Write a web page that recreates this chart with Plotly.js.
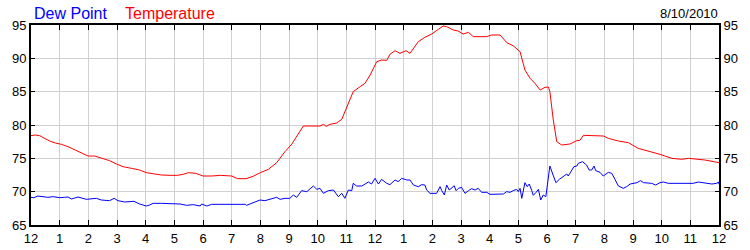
<!DOCTYPE html>
<html><head><meta charset="utf-8">
<script src="https://cdn.plot.ly/plotly-3.0.1.min.js"></script>
<style>html,body{margin:0;padding:0;background:#fff}#c{width:750px;height:250px}</style>
</head><body><div id="c"></div>
<script>
const hourTicks = [0,1,2,3,4,5,6,7,8,9,10,11,12,13,14,15,16,17,18,19,20,21,22,23,24];
const hourLabels = ["12","1","2","3","4","5","6","7","8","9","10","11","12","1","2","3","4","5","6","7","8","9","10","11","12"];
const yTicks = [65,70,75,80,85,90,95];

const tempHours = [0.00,0.15,0.30,0.48,0.65,0.85,1.06,1.29,1.52,1.76,1.99,2.22,2.45,2.74,2.98,3.21,3.50,3.79,4.02,4.26,4.55,4.85,5.10,5.30,5.49,5.75,6.00,6.30,6.60,7.00,7.20,7.50,7.75,8.00,8.28,8.57,8.86,9.10,9.27,9.50,9.73,10.08,10.20,10.30,10.43,10.66,10.84,11.01,11.24,11.48,11.65,11.83,12.06,12.23,12.41,12.52,12.70,12.87,13.08,13.22,13.51,13.74,13.98,14.21,14.38,14.50,14.73,14.90,15.08,15.26,15.43,15.90,16.07,16.36,16.60,16.83,17.06,17.23,17.41,17.58,17.76,17.93,18.05,18.10,18.22,18.34,18.51,18.80,19.04,19.15,19.27,19.97,20.14,20.49,20.84,21.18,21.53,21.94,22.35,22.70,22.93,23.51,24.00];
const tempValues = [78.4,78.5,78.4,78.0,77.6,77.3,77.1,76.75,76.25,75.75,75.35,75.35,75.0,74.65,74.15,73.75,73.5,73.25,72.85,72.65,72.5,72.45,72.45,72.6,72.85,72.75,72.35,72.35,72.45,72.35,71.95,71.95,72.3,72.85,73.35,74.35,76.0,77.15,78.25,79.85,79.85,79.85,80.1,79.8,80.1,80.3,80.85,82.5,85.0,85.75,86.25,87.5,89.5,89.75,89.7,90.6,91.15,90.75,91.15,90.75,92.5,93.15,93.65,94.35,94.85,94.75,94.25,94.1,93.65,93.9,93.25,93.25,93.5,93.5,92.35,91.85,91.0,88.25,87.0,86.25,85.25,85.65,85.7,85.0,80.75,77.5,77.0,77.15,77.65,77.7,78.45,78.35,78.0,77.6,77.35,76.5,76.1,75.6,75.0,74.85,75.0,74.75,74.35];

const dewHours = [0.00,0.10,0.24,0.38,0.59,0.77,0.94,1.00,1.17,1.29,1.41,1.64,1.93,2.10,2.28,2.45,2.74,2.90,3.03,3.27,3.50,3.59,3.79,4.02,4.14,4.26,4.55,4.95,5.20,5.43,5.66,5.90,5.95,6.13,6.30,6.59,7.47,7.52,7.75,7.99,8.16,8.34,8.57,8.69,8.86,9.03,9.15,9.27,9.44,9.62,9.73,9.85,9.97,10.08,10.20,10.37,10.55,10.72,10.84,10.95,11.07,11.19,11.24,11.36,11.54,11.77,11.88,12.00,12.12,12.23,12.41,12.52,12.70,12.81,12.93,13.11,13.22,13.34,13.51,13.63,13.74,13.80,13.92,14.15,14.21,14.27,14.33,14.42,14.50,14.59,14.73,14.76,14.83,14.91,15.02,15.14,15.26,15.37,15.49,15.60,15.72,15.90,16.01,16.48,16.59,16.71,16.82,16.94,17.00,17.06,17.12,17.23,17.31,17.38,17.47,17.52,17.62,17.70,17.78,17.87,17.96,18.02,18.10,18.20,18.31,18.43,18.57,18.69,18.74,18.83,18.94,19.04,19.09,19.24,19.38,19.47,19.56,19.64,19.70,19.85,19.96,20.14,20.26,20.37,20.49,20.66,20.78,20.90,21.02,21.14,21.26,21.37,21.65,21.79,21.94,22.06,22.23,22.35,22.81,22.94,23.10,23.28,23.51,23.75,23.92,23.98,24.00];
const dewValues = [69.15,69.1,69.35,69.25,69.15,69.25,69.1,69.1,69.15,69.2,68.9,69.2,68.85,68.9,69.0,68.75,68.65,69.0,68.65,68.45,68.45,68.55,68.15,67.85,68.0,68.25,68.25,68.25,68.15,67.95,68.05,67.85,68.15,67.85,68.1,68.1,68.1,67.95,68.35,68.75,68.65,68.85,69.15,68.85,69.0,69.0,69.5,69.15,70.15,70.0,70.4,70.85,70.35,70.5,69.75,70.15,70.25,69.25,69.75,69.0,70.25,70.15,71.25,70.85,70.85,71.45,71.15,72.0,71.15,71.85,71.25,71.05,71.75,71.5,72.0,71.75,71.75,71.0,70.75,71.05,71.0,70.25,69.75,69.75,70.25,70.75,70.15,69.5,71.0,70.25,70.75,70.9,70.15,70.5,70.65,69.75,70.15,70.45,70.25,70.5,69.9,69.9,69.6,69.65,70.0,69.9,70.15,70.35,70.0,70.5,69.0,71.35,70.75,71.15,70.15,69.45,69.9,70.35,68.75,69.5,69.25,71.25,73.85,72.65,71.35,71.85,72.25,72.65,72.35,73.0,73.75,73.85,74.25,74.5,74.0,73.25,73.25,73.85,73.15,72.9,72.35,72.9,72.75,71.85,70.85,70.5,70.75,71.15,71.25,71.35,71.65,71.35,71.25,71.0,71.35,71.45,71.25,71.25,71.25,71.35,71.25,71.45,71.35,71.15,71.25,71.45,71.1];

const FONT = 'Arial, "Liberation Sans", sans-serif';

const traces = [
  {x: tempHours, y: tempValues, type: 'scatter', mode: 'lines', line: {color: '#ff0000', width: 1}, hoverinfo: 'skip', yaxis: 'y'},
  {x: dewHours, y: dewValues, type: 'scatter', mode: 'lines', line: {color: '#0000ff', width: 1}, hoverinfo: 'skip', yaxis: 'y2'}
];

const yCommon = {
  range: [65, 95], tickmode: 'array', tickvals: yTicks, ticktext: yTicks.map(String),
  ticks: 'inside', ticklen: 4, tickcolor: '#000', tickwidth: 1,
  showline: true, linecolor: '#000', linewidth: 2, zeroline: false,
  tickfont: {family: FONT, size: 13, color: '#000'}, fixedrange: true
};

const layout = {
  width: 750, height: 250,
  margin: {l: 31, r: 31, t: 25, b: 25, pad: 0},
  paper_bgcolor: '#fff', plot_bgcolor: '#fff',
  showlegend: false,
  xaxis: {
    range: [0, 24], tickmode: 'array', tickvals: hourTicks, ticktext: hourLabels,
    ticks: 'inside', ticklen: 5, tickcolor: '#000', tickwidth: 1,
    showline: true, linecolor: '#000', linewidth: 2, mirror: 'ticks',
    showgrid: true, gridcolor: '#d0d0d0', gridwidth: 1, zeroline: false,
    tickfont: {family: FONT, size: 13, color: '#000'}, fixedrange: true
  },
  yaxis: Object.assign({}, yCommon, {side: 'left', showgrid: true, gridcolor: '#d0d0d0', gridwidth: 1}),
  yaxis2: Object.assign({}, yCommon, {side: 'right', overlaying: 'y', showgrid: false}),
  annotations: [
    {text: 'Dew Point', xref: 'paper', yref: 'paper', x: 0, y: 1, xanchor: 'left', yanchor: 'bottom', xshift: 1, yshift: 1,
     showarrow: false, font: {family: FONT, size: 16, color: '#0000ff'}},
    {text: 'Temperature', xref: 'paper', yref: 'paper', x: 0, y: 1, xanchor: 'left', yanchor: 'bottom', xshift: 92, yshift: 1,
     showarrow: false, font: {family: FONT, size: 16, color: '#ff0000'}},
    {text: '8/10/2010', xref: 'paper', yref: 'paper', x: 1, y: 1, xanchor: 'right', yanchor: 'bottom', xshift: 1, yshift: 2,
     showarrow: false, font: {family: FONT, size: 13, color: '#000'}}
  ]
};

Plotly.newPlot('c', traces, layout, {staticPlot: true, displayModeBar: false});
</script>
</body></html>
